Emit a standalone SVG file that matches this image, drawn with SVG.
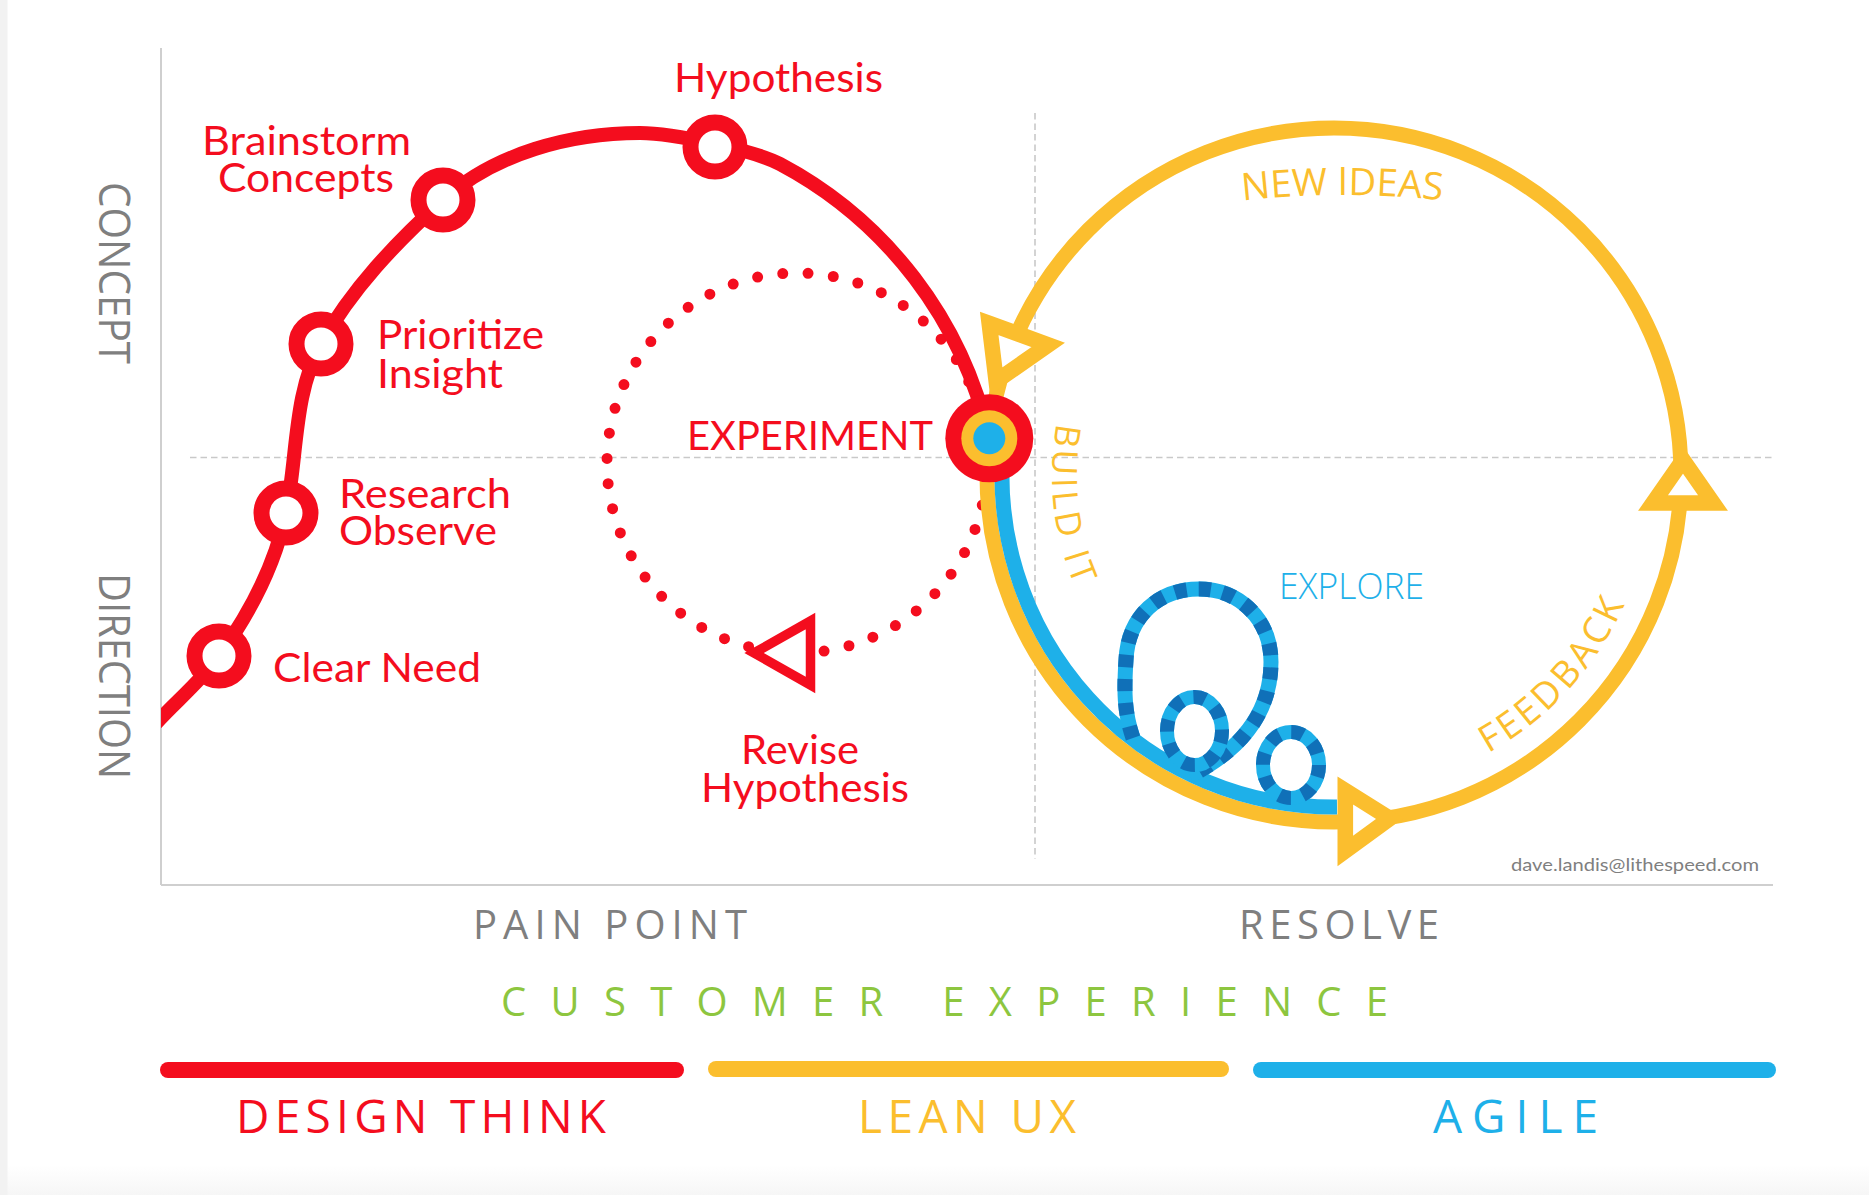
<svg xmlns="http://www.w3.org/2000/svg" width="1869" height="1195" viewBox="0 0 1869 1195">
<defs>
<style>
.guide{fill:none;stroke:#c9c9c9;stroke-width:1.6;stroke-dasharray:6.5 4}
.axis{fill:none;stroke:#cfcfcf;stroke-width:2}
.redline{fill:none;stroke:#F40D1E;stroke-width:14}
.dots{fill:none;stroke:#F40D1E;stroke-width:11;stroke-linecap:round;stroke-dasharray:0 25.4;stroke-dashoffset:8.3}
.yloop{fill:none;stroke:#FBBE2E;stroke-width:15}
.bline{fill:none;stroke:#1EB0E9;stroke-width:15}
.loop{fill:none;stroke:#1EB0E9}
.loopdash{fill:none;stroke:#1070B8;stroke-dasharray:12 12}
.node{fill:#fff;stroke:#F40D1E;stroke-width:16}
.arrow-y{fill:#fff;stroke:#FBBE2E;stroke-width:15.6;stroke-linejoin:miter}
.arrow-r{fill:#fff;stroke:#F40D1E;stroke-width:9.5;stroke-linejoin:miter}
.rl{font-family:Lato,'Liberation Sans',sans-serif;font-size:40px;fill:#F40D1E}
.gray{font-family:'Open Sans','Liberation Sans',sans-serif;fill:#7F7F7F}
.yl{font-family:'Open Sans','Liberation Sans',sans-serif;fill:#FBBE2E}
.bar{stroke-linecap:round;stroke-width:16;fill:none}
</style>
<clipPath id="plot"><rect x="161" y="0" width="1708" height="1195"/></clipPath>
<linearGradient id="bottomfade" x1="0" y1="0" x2="0" y2="1">
<stop offset="0" stop-color="#ffffff"/><stop offset="1" stop-color="#f6f6f6"/>
</linearGradient>
</defs>

<rect x="0" y="0" width="1869" height="1195" fill="#ffffff"/>
<rect x="0" y="1165" width="1869" height="30" fill="url(#bottomfade)"/>
<rect x="0" y="0" width="7.5" height="1195" fill="#f2f2f2"/>

<g id="axes">
<line class="guide" x1="190" y1="457.5" x2="1773" y2="457.5"/>
<line class="guide" x1="1035" y1="113" x2="1035" y2="859"/>
<line class="axis" x1="161" y1="48" x2="161" y2="885"/>
<line class="axis" x1="161" y1="885" x2="1773" y2="885"/>
</g>

<g id="connectors">
<circle class="dots" cx="797" cy="463" r="190"/>
<path class="redline" clip-path="url(#plot)" d="M 140 742 C 163.4 710.8, 196.2 687.7, 219 656 C 249.8 613.2, 275.3 564.6, 286 513 C 297.7 456.7, 293.1 394.3, 321 344 C 351.6 289, 396.3 242.2, 443 200 C 494.5 153.4, 570.6 133, 640 133 C 660 133, 695.5 139.7, 715 144 C 730 147.3, 765 156, 780 164 A 412 412 0 0 1 989 438"/>
<circle class="yloop" cx="1334" cy="475" r="347"/>
<path class="bline" d="M 1003.8 440.3 A 332 332 0 0 0 1337 807"/>
<g id="explore-loops">
<path class="loop" stroke-width="15" d="M 1133 738 C 1124 712, 1124 690, 1126 660 C 1128 615, 1160 589, 1199 589 C 1240 589, 1271 620, 1271 662 C 1271 705, 1250 745, 1190 776"/>
<path class="loopdash" stroke-width="15" d="M 1133 738 C 1124 712, 1124 690, 1126 660 C 1128 615, 1160 589, 1199 589 C 1240 589, 1271 620, 1271 662 C 1271 705, 1250 745, 1190 776"/>
<ellipse class="loop" stroke-width="14" cx="1194.5" cy="731" rx="27.5" ry="34"/>
<ellipse class="loopdash" stroke-width="14" cx="1194.5" cy="731" rx="27.5" ry="34"/>
<ellipse class="loop" stroke-width="14" cx="1291" cy="765" rx="28" ry="33"/>
<ellipse class="loopdash" stroke-width="14" cx="1291" cy="765" rx="28" ry="33"/>
</g>
<polygon class="arrow-y" points="989.2,323.4 1048.2,344.9 996.2,381.2"/>
<polygon class="arrow-y" points="1653,503 1713,503 1683,460"/>
<polygon class="arrow-y" points="1345.3,790.5 1345.3,851 1389.8,818.5"/>
<polygon class="arrow-r" points="754,653 810.5,621 810.5,685"/>
</g>

<g id="node-clear-need">
<circle class="node" cx="219" cy="656" r="24.5"/>
<text class="rl" x="273" y="682" textLength="208" lengthAdjust="spacingAndGlyphs">Clear Need</text>
</g>
<g id="node-research">
<circle class="node" cx="286" cy="513" r="24.5"/>
<text class="rl"><tspan x="339" y="508" textLength="172" lengthAdjust="spacingAndGlyphs">Research</tspan><tspan x="339" y="545" textLength="158" lengthAdjust="spacingAndGlyphs">Observe</tspan></text>
</g>
<g id="node-prioritize">
<circle class="node" cx="321" cy="344" r="24.5"/>
<text class="rl"><tspan x="377" y="349" textLength="167" lengthAdjust="spacingAndGlyphs">Prioritize</tspan><tspan x="377" y="388" textLength="126" lengthAdjust="spacingAndGlyphs">Insight</tspan></text>
</g>
<g id="node-brainstorm">
<circle class="node" cx="443" cy="200" r="24.5"/>
<text class="rl"><tspan x="202" y="155" textLength="209" lengthAdjust="spacingAndGlyphs">Brainstorm</tspan><tspan x="218" y="192" textLength="176" lengthAdjust="spacingAndGlyphs">Concepts</tspan></text>
</g>
<g id="node-hypothesis">
<circle class="node" cx="715" cy="147" r="24.5"/>
<text class="rl" x="674" y="92" textLength="209" lengthAdjust="spacingAndGlyphs">Hypothesis</text>
</g>
<g id="node-revise">
<text class="rl"><tspan x="741" y="764" textLength="118" lengthAdjust="spacingAndGlyphs">Revise</tspan><tspan x="701" y="802" textLength="208" lengthAdjust="spacingAndGlyphs">Hypothesis</tspan></text>
</g>
<g id="node-experiment">
<circle cx="989.3" cy="438.3" r="44" fill="#F40D1E"/>
<circle cx="989.3" cy="438.3" r="28" fill="#FBBE2E"/>
<circle cx="989.3" cy="438.3" r="16" fill="#1EB0E9"/>
<text class="rl" x="687" y="450" textLength="246" lengthAdjust="spacingAndGlyphs">EXPERIMENT</text>
</g>

<g id="loop-labels">
<path id="p-new" d="M 1193 207.6 A 900 900 0 0 1 1493 207.6" fill="none"/>
<text class="yl" font-size="38" font-weight="400"><textPath href="#p-new" startOffset="50" textLength="200" lengthAdjust="spacingAndGlyphs">NEW IDEAS</textPath></text>
<path id="p-build" d="M 1056.8 423 A 282 282 0 0 0 1098.4 630" fill="none"/>
<text class="yl" font-size="35" font-weight="400"><textPath href="#p-build" textLength="166" lengthAdjust="spacing">BUILD IT</textPath></text>
<path id="p-feed" d="M 1488.2 753.1 A 318 318 0 0 0 1641.2 557.3" fill="none"/>
<text class="yl" font-size="37" font-weight="400"><textPath href="#p-feed" textLength="205" lengthAdjust="spacing">FEEDBACK</textPath></text>
<text x="1279" y="599" font-family="'Open Sans','Liberation Sans',sans-serif" font-size="37" font-weight="300" fill="#1EB0E9" textLength="145" lengthAdjust="spacingAndGlyphs">EXPLORE</text>
<text x="1511" y="871" font-family="Lato,'Liberation Sans',sans-serif" font-size="18" fill="#7F7F7F" textLength="248" lengthAdjust="spacingAndGlyphs">dave.landis@lithespeed.com</text>
</g>

<g id="axis-labels">
<text class="gray" font-size="43" font-weight="400" transform="translate(99,182) rotate(90)" x="0" y="0" textLength="182" lengthAdjust="spacingAndGlyphs">CONCEPT</text>
<text class="gray" font-size="43" font-weight="400" transform="translate(99,573) rotate(90)" x="0" y="0" textLength="206" lengthAdjust="spacingAndGlyphs">DIRECTION</text>
<text class="gray" x="473" y="939" font-size="40" textLength="274" lengthAdjust="spacing">PAIN POINT</text>
<text class="gray" x="1239" y="939" font-size="40" textLength="200" lengthAdjust="spacing">RESOLVE</text>
<text x="501" y="1016" font-family="'Open Sans','Liberation Sans',sans-serif" font-size="40" fill="#8DC63F" textLength="887" lengthAdjust="spacing">CUSTOMER EXPERIENCE</text>
</g>

<g id="legend">
<line class="bar" stroke="#F40D1E" x1="168" y1="1070" x2="676" y2="1070"/>
<line class="bar" stroke="#FBBE2E" x1="716" y1="1069" x2="1221" y2="1069"/>
<line class="bar" stroke="#1EB0E9" x1="1261" y1="1070" x2="1768" y2="1070"/>
<text x="236" y="1133" font-family="'Open Sans','Liberation Sans',sans-serif" font-size="46" fill="#F40D1E" textLength="370" lengthAdjust="spacing">DESIGN THINK</text>
<text x="858" y="1133" font-family="'Open Sans','Liberation Sans',sans-serif" font-size="46" fill="#FBBE2E" textLength="218" lengthAdjust="spacing">LEAN UX</text>
<text x="1433" y="1133" font-family="'Open Sans','Liberation Sans',sans-serif" font-size="46" fill="#1EB0E9" textLength="165" lengthAdjust="spacing">AGILE</text>
</g>
</svg>
